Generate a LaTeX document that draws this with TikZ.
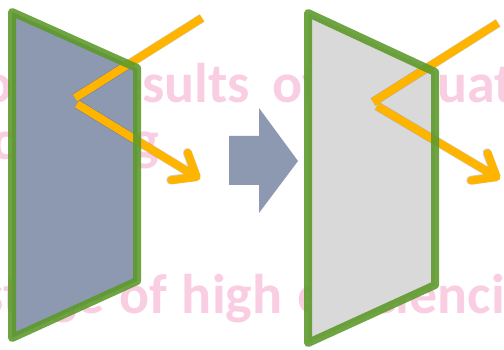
\documentclass[tikz,border=0pt]{standalone}
\usepackage{fontspec}
\newfontfamily\wmfont{Carlito}
\usetikzlibrary{arrows.meta}
\definecolor{panelgreen}{HTML}{5E9A2C}
\definecolor{panelblue}{HTML}{8C99B0}
\definecolor{panelgray}{HTML}{D9D9D9}
\definecolor{rayorange}{HTML}{FFB400}
\definecolor{wmpink}{HTML}{F9CEE2}
\tikzset{
	wmtext/.style={
			inner sep=0pt,
			text=wmpink,
			font=\wmfont\bfseries\fontsize{56}{60}\selectfont
		},
	panelline/.style={
			draw=panelgreen,
			line width=8pt,
			line join=round,
			opacity=.9
		},
	ray/.style={
			draw=rayorange,
			line width=8pt
		},
	rayshadow/.style={
			draw=black,
			opacity=.18,
			line width=9pt,
			shift={(1.5,2.5)}
		},
	raytip/.style={
			-{Straight Barb[length=20pt,width=32pt,round]}
		}
}
\begin{document}
\begin{tikzpicture}[x=1pt,y=-1pt]

  \useasboundingbox (0,0) rectangle (504,350);

  \node[wmtext, anchor=base west] (row1) at (142,103) {\spaceskip=22pt\llap{Good re}sults of evaluation};
  \node[wmtext, anchor=base east] (row2) at (159,160) {processing};
  \node[wmtext, anchor=base west] (row3) at (119,313) {\spaceskip=15pt\llap{stage }of high efficiencies};

  \coordinate (pA1) at (12,12);
  \coordinate (pA2) at (137,68);
  \coordinate (pA3) at (137,281);
  \coordinate (pA4) at (12,338);
  \coordinate (pB1) at (308,13);
  \coordinate (pB2) at (435,72);
  \coordinate (pB3) at (435,285);
  \coordinate (pB4) at (308,343);

  \fill[panelblue] (pA1) -- (pA2) -- (pA3) -- (pA4) -- cycle;
  \fill[panelgray] (pB1) -- (pB2) -- (pB3) -- (pB4) -- cycle;

  \fill[panelblue] (229,136) -- (259,136) -- (259,108) -- (298,161)
    -- (259,213) -- (259,185) -- (229,185) -- cycle;

  \coordinate (srcA) at (202,18);
  \coordinate (hitA) at (75,98);
  \coordinate (outA) at (77,104);
  \coordinate (endA) at (200,179);
  \coordinate (srcB) at (498,23);
  \coordinate (hitB) at (373,102);
  \coordinate (outB) at (377,106);
  \coordinate (endB) at (500,179);

  \draw[rayshadow] (srcA) -- (hitA);
  \draw[rayshadow, raytip] (outA) -- (endA);
  \draw[rayshadow] (srcB) -- (hitB);
  \draw[rayshadow, raytip] (outB) -- (endB);

  \draw[ray] (srcA) -- (hitA);
  \draw[ray, raytip] (outA) -- (endA);
  \draw[ray] (srcB) -- (hitB);
  \draw[ray, raytip] (outB) -- (endB);

  \draw[panelline] (pA1) -- (pA2) -- (pA3) -- (pA4) -- cycle;
  \draw[panelline] (pB1) -- (pB2) -- (pB3) -- (pB4) -- cycle;

\end{tikzpicture}
\end{document}
